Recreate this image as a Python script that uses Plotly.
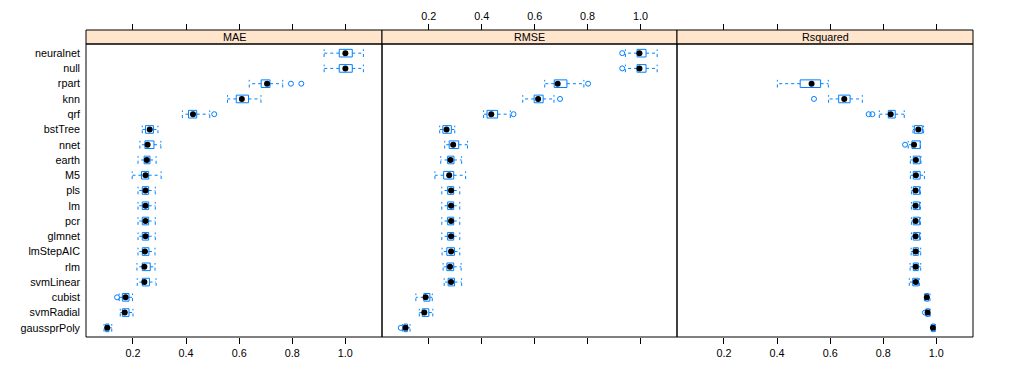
import plotly.graph_objects as go

models = ["neuralnet", "null", "rpart", "knn", "qrf", "bstTree", "nnet", "earth", "M5",
          "pls", "lm", "pcr", "glmnet", "lmStepAIC", "rlm", "svmLinear", "cubist",
          "svmRadial", "gaussprPoly"]
metrics = ["MAE", "RMSE", "Rsquared"]
tick_vals = [0.2, 0.4, 0.6, 0.8, 1.0]
tick_text = ["0.2", "0.4", "0.6", "0.8", "1.0"]

# MAE five-number summaries (lower whisker, Q1, median, Q3, upper whisker)
mae_lo = [0.920, 0.920, 0.638, 0.556, 0.386, 0.235, 0.226, 0.219, 0.197, 0.219, 0.219, 0.219, 0.219, 0.219, 0.215, 0.216, 0.148, 0.152, 0.091]
mae_q1 = [0.977, 0.977, 0.683, 0.589, 0.409, 0.247, 0.245, 0.242, 0.232, 0.235, 0.235, 0.235, 0.235, 0.235, 0.235, 0.235, 0.160, 0.160, 0.097]
mae_med = [1.000, 1.000, 0.705, 0.610, 0.426, 0.263, 0.255, 0.252, 0.247, 0.247, 0.247, 0.247, 0.247, 0.245, 0.243, 0.243, 0.172, 0.169, 0.103]
mae_q3 = [1.026, 1.026, 0.716, 0.635, 0.440, 0.277, 0.279, 0.264, 0.259, 0.259, 0.259, 0.259, 0.259, 0.260, 0.265, 0.262, 0.185, 0.185, 0.109]
mae_hi = [1.068, 1.068, 0.764, 0.682, 0.489, 0.294, 0.305, 0.287, 0.306, 0.284, 0.284, 0.284, 0.284, 0.283, 0.283, 0.287, 0.198, 0.200, 0.120]
mae_out_model = ["rpart", "rpart", "qrf", "cubist"]
mae_out_value = [0.795, 0.834, 0.506, 0.140]

# RMSE
rmse_lo = [0.943, 0.943, 0.638, 0.555, 0.407, 0.241, 0.260, 0.245, 0.223, 0.249, 0.249, 0.249, 0.249, 0.250, 0.254, 0.258, 0.151, 0.164, 0.100]
rmse_q1 = [0.987, 0.987, 0.674, 0.598, 0.420, 0.253, 0.277, 0.271, 0.256, 0.271, 0.271, 0.271, 0.271, 0.268, 0.268, 0.273, 0.181, 0.175, 0.106]
rmse_med = [0.996, 0.996, 0.687, 0.613, 0.436, 0.267, 0.292, 0.282, 0.277, 0.284, 0.284, 0.284, 0.284, 0.284, 0.280, 0.284, 0.188, 0.183, 0.112]
rmse_q3 = [1.021, 1.021, 0.722, 0.632, 0.460, 0.285, 0.313, 0.295, 0.294, 0.294, 0.294, 0.294, 0.294, 0.297, 0.294, 0.297, 0.204, 0.200, 0.119]
rmse_hi = [1.063, 1.063, 0.786, 0.673, 0.508, 0.298, 0.346, 0.324, 0.339, 0.317, 0.317, 0.317, 0.317, 0.317, 0.322, 0.324, 0.213, 0.215, 0.129]
rmse_out_model = ["neuralnet", "null", "rpart", "knn", "qrf", "gaussprPoly"]
rmse_out_value = [0.931, 0.931, 0.802, 0.696, 0.520, 0.094]

# Rsquared (not defined for neuralnet / null)
rsq_lo = [None, None, 0.401, 0.594, 0.785, 0.912, 0.894, 0.902, 0.902, 0.906, 0.906, 0.906, 0.906, 0.905, 0.901, 0.898, 0.955, 0.960, 0.981]
rsq_q1 = [None, None, 0.487, 0.632, 0.819, 0.917, 0.908, 0.913, 0.913, 0.913, 0.913, 0.913, 0.913, 0.913, 0.913, 0.911, 0.959, 0.962, 0.983]
rsq_med = [None, None, 0.530, 0.653, 0.828, 0.932, 0.916, 0.923, 0.923, 0.922, 0.922, 0.922, 0.922, 0.922, 0.922, 0.922, 0.964, 0.967, 0.987]
rsq_q3 = [None, None, 0.564, 0.675, 0.845, 0.947, 0.939, 0.939, 0.939, 0.937, 0.937, 0.937, 0.937, 0.932, 0.932, 0.932, 0.971, 0.974, 0.994]
rsq_hi = [None, None, 0.593, 0.721, 0.879, 0.952, 0.940, 0.942, 0.955, 0.940, 0.940, 0.940, 0.940, 0.941, 0.941, 0.936, 0.976, 0.977, 0.996]
rsq_out_model = ["knn", "qrf", "qrf", "nnet", "svmRadial"]
rsq_out_value = [0.539, 0.745, 0.759, 0.882, 0.957]

BLUE = "#0080ff"
FONT = "Liberation Sans, Arial, sans-serif"
FS = 10.8
XR = [0.023, 1.138]
n = len(models)
pos = {m: n - i for i, m in enumerate(models)}
H = 0.25

panels = [
    (mae_lo, mae_q1, mae_med, mae_q3, mae_hi, mae_out_model, mae_out_value),
    (rmse_lo, rmse_q1, rmse_med, rmse_q3, rmse_hi, rmse_out_model, rmse_out_value),
    (rsq_lo, rsq_q1, rsq_med, rsq_q3, rsq_hi, rsq_out_model, rsq_out_value),
]

fig = go.Figure()
for k in range(3):
    # invisible anchor trace so the top tick axis is drawn
    fig.add_trace(go.Scatter(x=[XR[0]], y=[1], xaxis=f"x{k+4}", yaxis="y",
                             mode="markers", marker=dict(opacity=0, size=1),
                             hoverinfo="skip", showlegend=False))
for k, (lo, q1, med, q3, hi, om, ov) in enumerate(panels):
    xa = "x" if k == 0 else f"x{k+1}"
    bx, by, wx, wy, dx, dy = [], [], [], [], [], []
    for i, m in enumerate(models):
        if med[i] is None:
            continue
        p = pos[m]
        bx += [q1[i], q3[i], q3[i], q1[i], q1[i], None]
        by += [p - H, p - H, p + H, p + H, p - H, None]
        wx += [q1[i], lo[i], None, q3[i], hi[i], None,
               lo[i], lo[i], None, hi[i], hi[i], None]
        wy += [p, p, None, p, p, None,
               p - H, p + H, None, p - H, p + H, None]
        dx.append(med[i])
        dy.append(p)
    fig.add_trace(go.Scatter(x=wx, y=wy, xaxis=xa, yaxis="y", mode="lines",
                             line=dict(color=BLUE, width=1, dash="3px,3px"),
                             hoverinfo="skip", showlegend=False))
    fig.add_trace(go.Scatter(x=bx, y=by, xaxis=xa, yaxis="y", mode="lines",
                             line=dict(color=BLUE, width=1),
                             hoverinfo="skip", showlegend=False))
    fig.add_trace(go.Scatter(x=ov, y=[pos[m] for m in om], xaxis=xa, yaxis="y",
                             mode="markers",
                             marker=dict(symbol="circle-open", size=5, color=BLUE,
                                         line=dict(width=1, color=BLUE)),
                             showlegend=False))
    fig.add_trace(go.Scatter(x=dx, y=dy, xaxis=xa, yaxis="y", mode="markers",
                             marker=dict(symbol="circle", size=6, color="black"),
                             showlegend=False))

W, HT = 1002, 369
L, T = 78, 22
pw, ph = 887, 307
R = W - L - pw
B = HT - T - ph
edges = [0, 296 / pw, 591 / pw, 1.0]
strip_h = 14
ytop = 1 - strip_h / ph

xcommon = dict(range=XR, tickvals=tick_vals, ticktext=tick_text,
               ticks="outside", ticklen=6, tickcolor="black", tickwidth=1,
               showline=False, mirror=False, automargin=False,
               showgrid=False, zeroline=False,
               tickfont=dict(family=FONT, size=FS, color="black"))

layout = dict(
    width=W, height=HT,
    margin=dict(l=L, r=R, t=T, b=B, autoexpand=False),
    plot_bgcolor="rgba(0,0,0,0)", paper_bgcolor="white",
    showlegend=False,
    yaxis=dict(domain=[0, ytop], range=[0.4, n + 0.6],
               tickvals=[pos[m] for m in models], ticktext=models,
               ticks="", showgrid=False, zeroline=False, showline=False,
               ticklabelstandoff=5, automargin=False,
               tickfont=dict(family=FONT, size=FS, color="black")),
)
for k in range(3):
    name = "xaxis" if k == 0 else f"xaxis{k+1}"
    ax = dict(xcommon)
    ax["domain"] = [edges[k], edges[k + 1]]
    ax["anchor"] = "y"
    ax["side"] = "bottom"
    ax["showticklabels"] = (k != 1)
    layout[name] = ax
for k in range(3):
    name = f"xaxis{k+4}"
    ax = dict(xcommon)
    ax["domain"] = [edges[k], edges[k + 1]]
    ax["anchor"] = "free"
    ax["position"] = 1.0
    ax["side"] = "top"
    ax["showticklabels"] = (k == 1)
    layout[name] = ax
fig.update_layout(**layout)

shapes, annots = [], []
for k, mname in enumerate(metrics):
    xr = "x domain" if k == 0 else f"x{k+1} domain"
    shapes.append(dict(type="rect", xref=xr, yref="paper", x0=0, x1=1, y0=ytop, y1=1,
                       fillcolor="#ffe5cc", line=dict(color="black", width=1), layer="below"))
    shapes.append(dict(type="rect", xref=xr, yref="y domain", x0=0, x1=1, y0=0, y1=1,
                       line=dict(color="black", width=1)))
    annots.append(dict(text=mname, xref=xr, yref="paper", x=0.5, y=(ytop + 1) / 2,
                       showarrow=False, xanchor="center", yanchor="middle",
                       font=dict(family=FONT, size=FS, color="black")))
fig.update_layout(shapes=shapes, annotations=annots)

fig.write_html("out.html")
